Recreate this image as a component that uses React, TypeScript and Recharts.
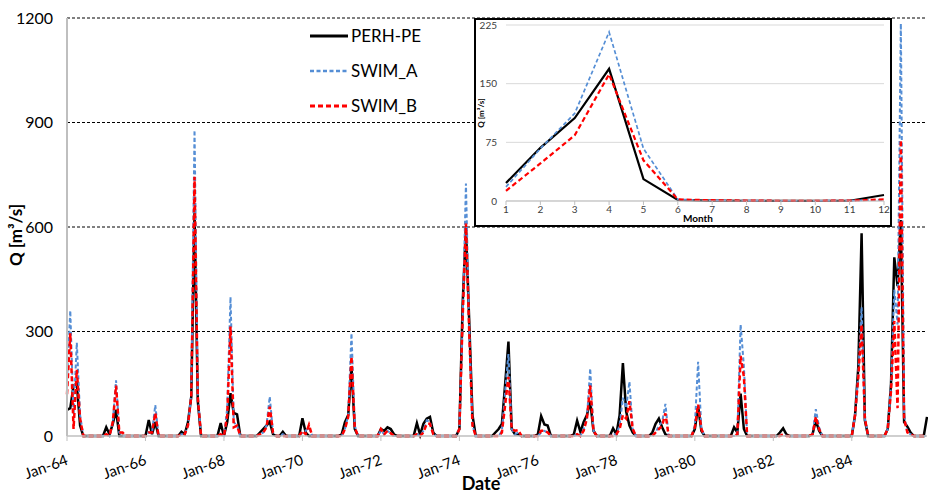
import React from 'react';
import { LineChart, Line, XAxis, YAxis, CartesianGrid, ReferenceLine, Legend } from 'recharts';

const FONT = 'Lato, "Open Sans", sans-serif';

// monthly discharge, Jan-64 .. Dec-85 (one row per year)
const perhPe: number[] = [
  75, 80, 145, 150, 30, 0, 0, 0, 0, 0, 0, 0, // 64
  25, 5, 35, 75, 0, 0, 0, 0, 0, 0, 0, 0, // 65
  0, 46, 5, 40, 0, 0, 0, 0, 0, 0, 0, 12, // 66
  5, 40, 112, 640, 100, 0, 0, 0, 0, 0, 0, 37, // 67
  0, 40, 123, 66, 62, 0, 0, 0, 0, 0, 0, 10, // 68
  20, 30, 41, 5, 0, 0, 12, 0, 0, 0, 0, 0, // 69
  51, 10, 0, 0, 0, 0, 0, 0, 0, 0, 0, 0, // 70
  5, 40, 60, 199, 20, 0, 0, 0, 0, 0, 0, 0, // 71
  20, 15, 25, 20, 5, 0, 0, 0, 0, 0, 0, 37, // 72
  3, 35, 50, 55, 10, 0, 0, 0, 0, 0, 0, 0, // 73
  20, 380, 600, 330, 60, 0, 0, 0, 0, 0, 0, 10, // 74
  20, 35, 150, 271, 20, 5, 5, 0, 0, 0, 0, 0, // 75
  5, 57, 33, 30, 0, 0, 0, 0, 0, 0, 0, 5, // 76
  44, 12, 40, 60, 100, 15, 0, 0, 0, 0, 0, 22, // 77
  5, 60, 209, 70, 30, 10, 0, 0, 0, 0, 0, 10, // 78
  35, 50, 25, 5, 0, 0, 0, 0, 0, 0, 0, 0, // 79
  20, 85, 15, 0, 0, 0, 0, 0, 0, 0, 0, 0, // 80
  25, 10, 122, 20, 0, 0, 0, 0, 0, 0, 0, 0, // 81
  0, 0, 10, 22, 5, 0, 0, 0, 0, 0, 0, 0, // 82
  5, 45, 15, 0, 0, 0, 0, 0, 0, 0, 0, 0, // 83
  0, 60, 200, 582, 45, 0, 0, 0, 0, 0, 0, 20, // 84
  150, 513, 430, 620, 40, 27, 10, 0, 0, 0, 0, 55, // 85
];

const swimA: number[] = [
  160, 360, 60, 268, 60, 0, 0, 0, 0, 0, 0, 0,
  5, 0, 40, 160, 10, 0, 0, 0, 0, 0, 0, 0,
  0, 10, 10, 89, 0, 0, 0, 0, 0, 0, 0, 5,
  5, 30, 120, 878, 120, 0, 0, 0, 0, 0, 0, 5,
  0, 80, 399, 40, 30, 0, 0, 0, 0, 0, 0, 5,
  10, 30, 113, 10, 0, 0, 5, 0, 0, 0, 0, 0,
  10, 15, 25, 0, 0, 0, 0, 0, 0, 0, 0, 0,
  0, 20, 60, 295, 30, 0, 0, 0, 0, 0, 0, 0,
  15, 5, 15, 8, 0, 0, 0, 0, 0, 0, 0, 5,
  0, 15, 45, 40, 5, 0, 0, 0, 0, 0, 0, 0,
  20, 330, 725, 310, 30, 0, 0, 0, 0, 0, 0, 0,
  0, 15, 130, 235, 20, 5, 10, 0, 0, 0, 0, 0,
  0, 10, 15, 10, 0, 0, 0, 0, 0, 0, 0, 0,
  5, 0, 20, 50, 194, 15, 0, 0, 0, 0, 0, 5,
  5, 30, 110, 80, 156, 20, 0, 0, 0, 0, 0, 0,
  10, 30, 40, 92, 0, 0, 0, 0, 0, 0, 0, 0,
  30, 213, 20, 0, 0, 0, 0, 0, 0, 0, 0, 0,
  0, 5, 320, 200, 0, 0, 0, 0, 0, 0, 0, 0,
  0, 0, 0, 5, 0, 0, 0, 0, 0, 0, 0, 0,
  5, 77, 25, 0, 0, 0, 0, 0, 0, 0, 0, 0,
  0, 60, 180, 370, 50, 0, 0, 0, 0, 0, 0, 20,
  150, 420, 320, 1184, 60, 10, 5, 0, 0, 0, 0, 0,
];

const swimB: number[] = [
  120, 295, 20, 190, 50, 0, 0, 0, 0, 0, 0, 0,
  5, 0, 40, 145, 10, 10, 0, 0, 0, 0, 0, 0,
  0, 10, 10, 66, 0, 0, 0, 0, 0, 0, 0, 5,
  5, 30, 115, 744, 110, 0, 0, 0, 0, 0, 0, 5,
  0, 60, 314, 25, 30, 0, 0, 0, 0, 0, 0, 5,
  10, 25, 84, 10, 0, 0, 0, 0, 0, 0, 0, 0,
  15, 5, 32, 0, 0, 0, 0, 0, 0, 0, 0, 0,
  0, 20, 55, 228, 25, 0, 0, 0, 0, 0, 0, 0,
  20, 5, 15, 8, 0, 0, 0, 0, 0, 0, 0, 5,
  0, 10, 35, 35, 5, 0, 0, 0, 0, 0, 0, 0,
  20, 340, 610, 300, 30, 0, 0, 0, 0, 0, 0, 0,
  0, 10, 90, 170, 20, 15, 17, 0, 0, 0, 0, 0,
  0, 15, 15, 10, 0, 0, 0, 0, 0, 0, 0, 0,
  5, 0, 15, 50, 145, 15, 0, 0, 0, 0, 0, 0,
  5, 20, 60, 50, 100, 20, 0, 0, 0, 0, 0, 0,
  10, 20, 30, 65, 0, 0, 0, 0, 0, 0, 0, 0,
  25, 90, 20, 0, 0, 0, 0, 0, 0, 0, 0, 0,
  0, 5, 230, 170, 0, 0, 0, 0, 0, 0, 0, 0,
  0, 0, 0, 5, 0, 0, 0, 0, 0, 0, 0, 0,
  5, 55, 20, 0, 0, 0, 0, 0, 0, 0, 0, 0,
  0, 60, 170, 320, 50, 0, 0, 0, 0, 0, 0, 20,
  130, 330, 80, 850, 50, 10, 5, 0, 0, 0, 0, 0,
];

const tickMonths = [0, 24, 48, 72, 96, 120, 144, 168, 192, 216, 240];
const tickLabels = ['Jan-64', 'Jan-66', 'Jan-68', 'Jan-70', 'Jan-72', 'Jan-74', 'Jan-76', 'Jan-78', 'Jan-80', 'Jan-82', 'Jan-84'];
const yTicks = [0, 300, 600, 900, 1200];
const gridValues = [300, 600, 900, 1200];

// inset: mean monthly discharge
const months = [1, 2, 3, 4, 5, 6, 7, 8, 9, 10, 11, 12];
const perhMonthly = [23, 68, 106, 169, 28, 1.3, 0.5, 0.3, 0.2, 0.2, 0.3, 7.7];
const swimAMonthly = [18, 67, 112, 216, 67, 2, 0.8, 0.5, 0.3, 0.3, 0.5, 1.5];
const swimBMonthly = [13, 48, 84, 162, 52, 2, 1, 0.5, 0.3, 0.3, 0.5, 2];
const insetTicks = [0, 75, 150, 225];

const series = [
  { key: 'perh', name: 'PERH-PE', color: '#000000', width: 2.5, dash: undefined as string | undefined },
  { key: 'swimA', name: 'SWIM_A', color: '#558ED5', width: 2, dash: '4 2.5' },
  { key: 'swimB', name: 'SWIM_B', color: '#FF0000', width: 2.5, dash: '5 3' },
];

const rows = perhPe.map((v, i) => ({ i, perh: v, swimA: swimA[i], swimB: swimB[i] }));
const insetRows = months.map((m, k) => ({ m, perh: perhMonthly[k], swimA: swimAMonthly[k], swimB: swimBMonthly[k] }));

const DateTick = (props: any) => {
  const { x, y, payload } = props;
  const label = tickLabels[tickMonths.indexOf(payload.value)];
  const px = x + 2;
  const py = y + 21;
  return (
    <text x={px} y={py} transform={`rotate(-20 ${px} ${py})`} textAnchor="end" fontSize={15} fill="#000" fontFamily={FONT}>
      {label}
    </text>
  );
};

const DateLabel = () => (
  <text x={481} y={490} textAnchor="middle" fontSize={18} fontWeight="bold" fill="#000" fontFamily={FONT}>
    Date
  </text>
);

const QLabel = () => (
  <text x={22} y={235} transform="rotate(-90 22 235)" textAnchor="middle" fontSize={17} fontWeight="bold" fill="#000" fontFamily={FONT}>
    Q [m³/s]
  </text>
);

const InsetQLabel = () => (
  <text x={8} y={93} transform="rotate(-90 8 93)" textAnchor="middle" fontSize={8} fontWeight="bold" fill="#000" fontFamily={FONT}>
    Q [m³/s]
  </text>
);

const MonthLabel = () => (
  <text x={222} y={202} textAnchor="middle" fontSize={10} fontWeight="bold" fill="#000" fontFamily={FONT}>
    Month
  </text>
);

const LegendContent = () => (
  <div style={{ fontFamily: FONT, fontSize: 17, color: '#000' }}>
    {series.map((s) => (
      <div key={s.key} style={{ display: 'flex', alignItems: 'center', height: 35 }}>
        <svg width={39} height={6}>
          <line x1={0} y1={3} x2={38} y2={3} stroke={s.color} strokeWidth={s.width + 0.5} strokeDasharray={s.dash} />
        </svg>
        <span style={{ marginLeft: 2 }}>{s.name}</span>
      </div>
    ))}
  </div>
);

export default function App() {
  return (
    <div style={{ position: 'absolute', left: 0, top: 0, width: 928, height: 495, background: '#fff' }}>
      <LineChart width={928} height={495} data={rows} margin={{ top: 18, right: 1, bottom: 0, left: 0 }}>
        <XAxis
          dataKey="i"
          type="number"
          domain={[0, 263]}
          ticks={tickMonths}
          interval={0}
          height={59}
          tick={<DateTick />}
          tickSize={5}
          axisLine={{ stroke: '#BFBFBF', strokeWidth: 1.5 }}
          tickLine={{ stroke: '#BFBFBF' }}
          label={<DateLabel />}
        />
        <YAxis
          domain={[0, 1200]}
          ticks={yTicks}
          width={67}
          tickSize={0}
          tickMargin={14}
          tickLine={false}
          axisLine={{ stroke: '#BFBFBF', strokeWidth: 2 }}
          tick={{ fontSize: 16, fill: '#000', fontFamily: FONT }}
          label={<QLabel />}
        />
        {gridValues.map((v) => (
          <ReferenceLine key={v} y={v} stroke="#000" strokeDasharray="3 2" strokeWidth={1} />
        ))}
        {series.map((s) => (
          <Line
            key={s.key}
            dataKey={s.key}
            name={s.name}
            type="linear"
            stroke={s.color}
            strokeWidth={s.width}
            strokeDasharray={s.dash}
            dot={false}
            activeDot={false}
            isAnimationActive={false}
          />
        ))}
        <Legend
          layout="vertical"
          align="center"
          verticalAlign="middle"
          content={<LegendContent />}
          wrapperStyle={{ left: 310, top: 18, width: 130 }}
        />
      </LineChart>

      <div
        style={{
          position: 'absolute',
          left: 474,
          top: 18,
          width: 418,
          height: 209,
          boxSizing: 'border-box',
          border: '2px solid #000',
          background: '#fff',
        }}
      >
        <LineChart width={414} height={205} data={insetRows} margin={{ top: 5, right: 6, bottom: 0, left: 0 }}>
          <CartesianGrid vertical={false} stroke="#D9D9D9" />
          <XAxis
            dataKey="m"
            type="number"
            domain={[1, 12]}
            ticks={months}
            interval={0}
            height={24}
            tickSize={4}
            tickMargin={1}
            axisLine={{ stroke: '#BFBFBF' }}
            tickLine={{ stroke: '#BFBFBF' }}
            tick={{ fontSize: 10, fill: '#404040', fontFamily: FONT }}
            label={<MonthLabel />}
          />
          <YAxis
            domain={[0, 225]}
            ticks={insetTicks}
            width={30}
            tickSize={0}
            tickMargin={9}
            tickLine={false}
            axisLine={false}
            tick={{ fontSize: 10, fill: '#404040', fontFamily: FONT }}
            label={<InsetQLabel />}
          />
          {series.map((s) => (
            <Line
              key={s.key}
              dataKey={s.key}
              type="linear"
              stroke={s.color}
              strokeWidth={s.width - 0.3}
              strokeDasharray={s.dash}
              dot={false}
              activeDot={false}
              isAnimationActive={false}
            />
          ))}
        </LineChart>
      </div>
    </div>
  );
}
